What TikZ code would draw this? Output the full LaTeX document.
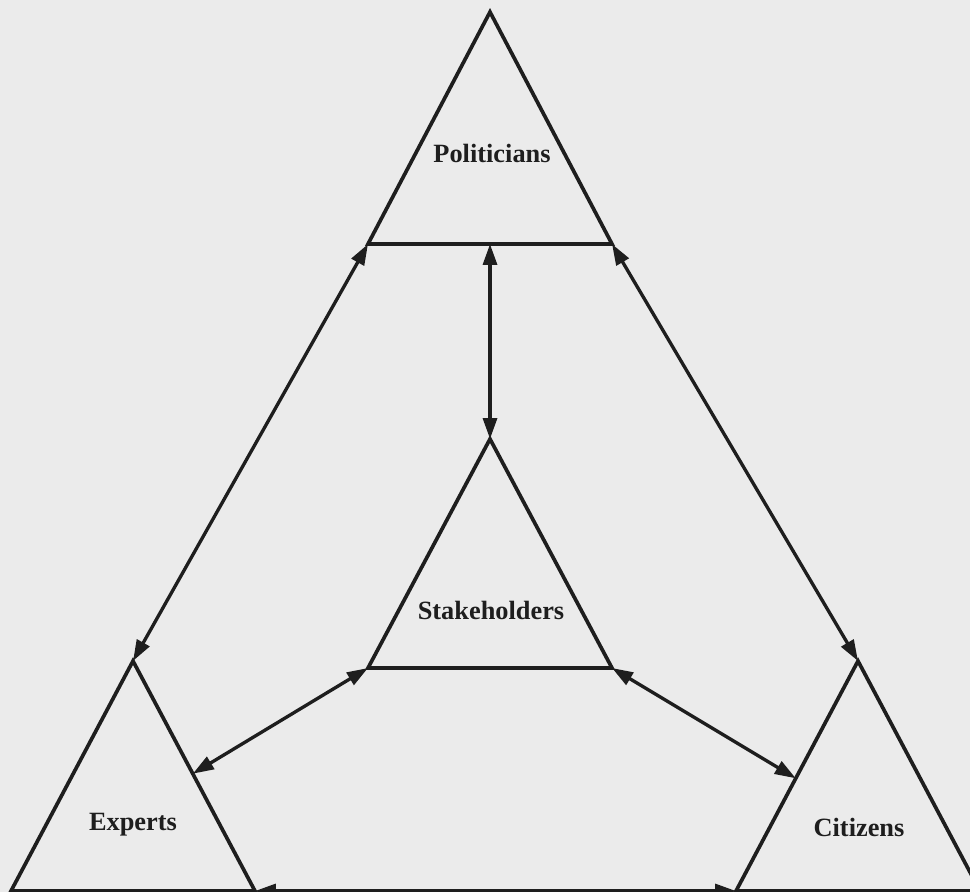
\documentclass[tikz,border=0pt]{standalone}
\usepackage{fontspec}
\setmainfont{Liberation Serif}
\usetikzlibrary{arrows.meta,calc}
\definecolor{paper}{HTML}{EBEBEB}
\definecolor{ink}{HTML}{1E1E1E}
\begin{document}
\begin{tikzpicture}[x=0.02cm,y=-0.02cm,
  edge/.style={draw=ink,line width=2.1pt,line join=miter},
  link/.style={draw=ink,line width=1.9pt,{Triangle[length=0.42cm,width=0.28cm]}-{Triangle[length=0.42cm,width=0.28cm]}},
  tag/.style={font=\bfseries\fontsize{15pt}{17pt}\selectfont,text=ink,inner sep=0pt}]
  \fill[paper] (0,0) rectangle (970,892);
  \useasboundingbox (0,0) rectangle (970,892);
  \clip (0,0) rectangle (970,892);

  % triangle corners: apex (a), base left (l), base right (r)
  \coordinate (pol-a) at (490,12);  \coordinate (pol-l) at (368,244); \coordinate (pol-r) at (612,244);
  \coordinate (pol-m) at (490,244);
  \coordinate (stk-a) at (490,439); \coordinate (stk-l) at (368,668); \coordinate (stk-r) at (612,668);
  \coordinate (exp-a) at (133,661); \coordinate (exp-l) at (11,891);  \coordinate (exp-r) at (255,891);
  \coordinate (cit-a) at (858,661); \coordinate (cit-l) at (736,891); \coordinate (cit-r) at (980,891);
  % points on the inner sides where the middle links land
  \coordinate (exp-s) at ($(exp-a)!0.49!(exp-r)$);
  \coordinate (cit-s) at ($(cit-a)!0.51!(cit-l)$);

  \draw[edge] (pol-a) -- (pol-l) -- (pol-r) -- cycle;
  \draw[edge] (stk-a) -- (stk-l) -- (stk-r) -- cycle;
  \draw[edge] (exp-a) -- (exp-l) -- (exp-r) -- cycle;
  \draw[edge] (cit-a) -- (cit-l) -- (cit-r) -- cycle;

  \node[tag] (politicians)  at (492,153) {Politicians};
  \node[tag] (stakeholders) at (491,610) {Stakeholders};
  \node[tag] (experts)      at (133,825) {Experts};
  \node[tag] (citizens)     at (859,827) {Citizens};

  \draw[link] (pol-l) -- (exp-a);
  \draw[link] (pol-r) -- (cit-a);
  \draw[link] (pol-m) -- (stk-a);
  \draw[link] (stk-l) -- (exp-s);
  \draw[link] (stk-r) -- (cit-s);
  \draw[link] (exp-r) -- (cit-l);
\end{tikzpicture}
\end{document}
